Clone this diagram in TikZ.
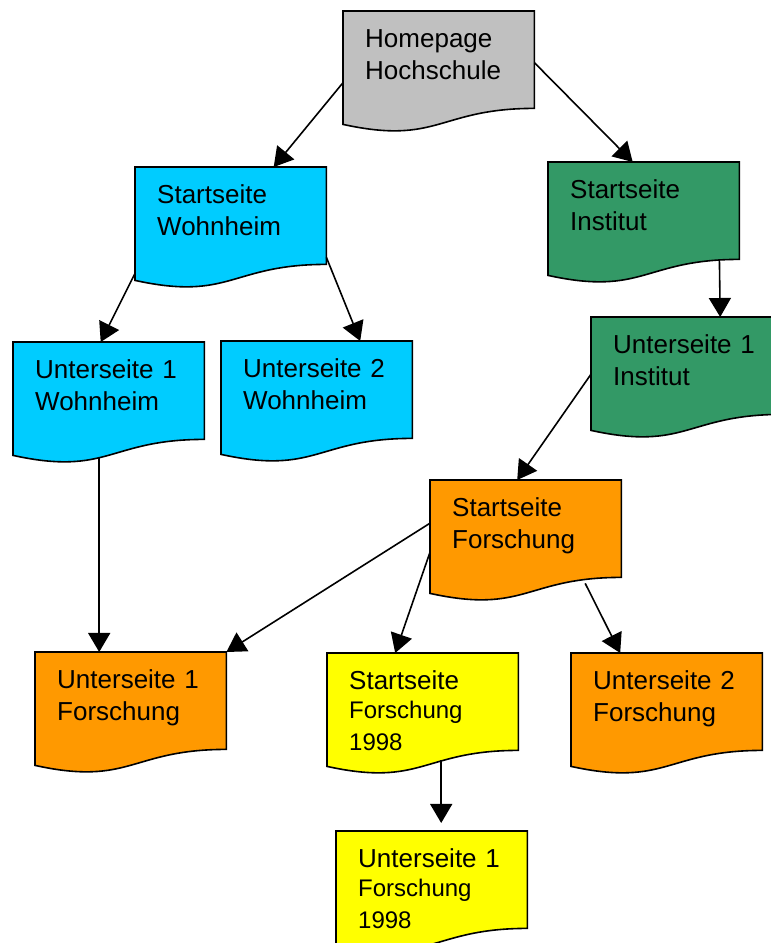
\documentclass[tikz,border=0pt]{standalone}
\usepackage{fontspec}
\setmainfont{Liberation Sans}
\usetikzlibrary{arrows.meta,backgrounds}

\definecolor{grau}{HTML}{C0C0C0}
\definecolor{hellblau}{HTML}{00CCFF}
\definecolor{gruen}{HTML}{339966}
\definecolor{orange}{HTML}{FF9900}
\definecolor{gelb}{HTML}{FFFF00}

\newcommand{\klein}{\fontsize{24}{29}\selectfont}

% page with wavy bottom: name, position, colour, text
\newcommand{\seite}[4]{%
  \node[seite] (#1) at (#2) {#4};
  \begin{scope}[on background layer]
    \filldraw[fill=#3, rand] (#1.north west) -- (#1.north east) -- (#1.south east)
      .. controls (#1.south) and ([yshift=-37pt]#1.south) .. ([yshift=-16pt]#1.south west) -- cycle;
  \end{scope}}

\begin{document}
\begin{tikzpicture}[x=1pt, y=1pt,
    seite/.style={anchor=north west, inner xsep=22pt, inner ysep=0pt,
      text width=147pt, align=left, text height=36pt, text depth=61pt,
      font=\fontsize{26}{32}\selectfont},
    rand/.style={line width=1.6pt, line join=miter},
    pfeil/.style={line width=1.6pt, -{Triangle[length=19pt, width=22pt]}}]
  \useasboundingbox (0,0) rectangle (771,943);

  \seite{home}{343,932}{grau}{Homepage\\Hochschule}
  \seite{wohn}{135,776}{hellblau}{Startseite\\Wohnheim}
  \seite{inst}{548,781}{gruen}{Startseite\\Institut}
  \seite{uwohn1}{13,601}{hellblau}{Unterseite 1\\Wohnheim}
  \seite{uwohn2}{221,602}{hellblau}{Unterseite 2\\Wohnheim}
  \seite{uinst1}{591,626}{gruen}{Unterseite 1\\Institut}
  \seite{forsch}{430,463}{orange}{Startseite\\Forschung}
  \seite{uforsch1}{35,291}{orange}{Unterseite 1\\Forschung}
  \seite{forsch98}{327,290}{gelb}{Startseite\\\klein Forschung\\1998}
  \seite{uforsch2}{571,290}{orange}{Unterseite 2\\Forschung}
  \seite{uforsch98}{336,112}{gelb}{Unterseite 1\\\klein Forschung\\1998}

  % Hochschule
  \draw[pfeil] ([yshift=-23pt]home.west) -- ([xshift=43pt]wohn.north);
  \draw[pfeil] ([yshift=-3pt]home.east) -- ([xshift=-11pt]inst.north);
  % Wohnheim
  \draw[pfeil] ([yshift=-9pt]wohn.south west) -- ([xshift=-8pt]uwohn1.north);
  \draw[pfeil] ([yshift=7pt]wohn.south east) -- ([xshift=43.5pt]uwohn2.north);
  \draw[pfeil] ([xshift=-9.5pt, yshift=-18pt]uwohn1.south) -- ([xshift=-31.5pt]uforsch1.north);
  % Institut
  \draw[pfeil] ([xshift=-20pt]inst.south east) -- ([xshift=33.5pt]uinst1.north);
  \draw[pfeil] ([yshift=-8.5pt]uinst1.west) -- ([xshift=-8.5pt]forsch.north);
  % Forschung
  \draw[pfeil] ([yshift=5.5pt]forsch.west) -- (uforsch1.north east);
  \draw[pfeil] ([yshift=-23.5pt]forsch.west) -- ([xshift=-27.5pt]forsch98.north);
  \draw[pfeil] ([xshift=59.5pt, yshift=-6pt]forsch.south) -- ([xshift=-46.5pt]uforsch2.north);
  \draw[pfeil, shorten >=8pt] ([xshift=18.5pt, yshift=-10pt]forsch98.south) -- ([xshift=9.5pt]uforsch98.north);
\end{tikzpicture}
\end{document}
